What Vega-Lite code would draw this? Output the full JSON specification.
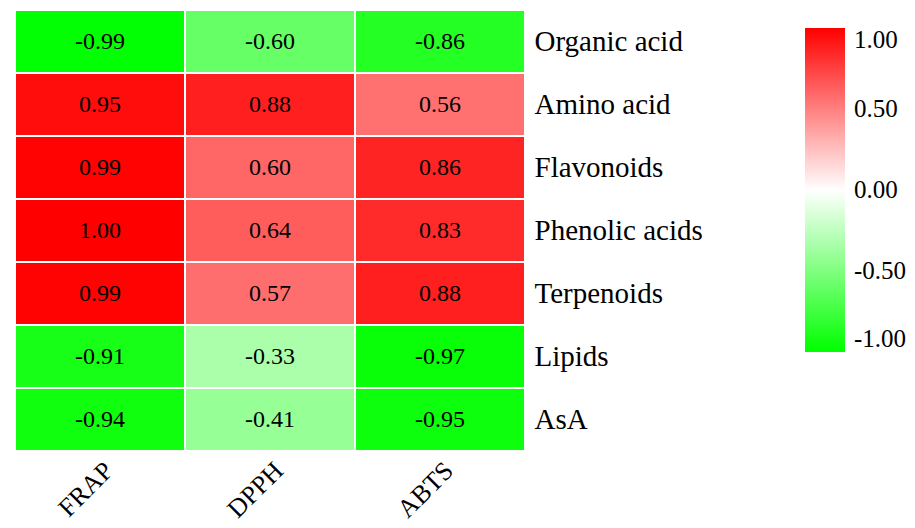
{
  "$schema": "https://vega.github.io/schema/vega-lite/v6.json",
  "autosize": "none",
  "padding": {"left": 15, "top": 10, "right": 390, "bottom": 77},
  "width": 510,
  "height": 441,
  "config": {
    "view": {"stroke": null},
    "font": "Liberation Serif",
    "axis": {"labelFont": "Liberation Serif", "labelColor": "black"},
    "legend": {"labelFont": "Liberation Serif", "labelColor": "black"}
  },
  "data": {
    "values": [
      {"compound": "Organic acid", "assay": "FRAP", "r": -0.99},
      {"compound": "Organic acid", "assay": "DPPH", "r": -0.60},
      {"compound": "Organic acid", "assay": "ABTS", "r": -0.86},
      {"compound": "Amino acid", "assay": "FRAP", "r": 0.95},
      {"compound": "Amino acid", "assay": "DPPH", "r": 0.88},
      {"compound": "Amino acid", "assay": "ABTS", "r": 0.56},
      {"compound": "Flavonoids", "assay": "FRAP", "r": 0.99},
      {"compound": "Flavonoids", "assay": "DPPH", "r": 0.60},
      {"compound": "Flavonoids", "assay": "ABTS", "r": 0.86},
      {"compound": "Phenolic acids", "assay": "FRAP", "r": 1.00},
      {"compound": "Phenolic acids", "assay": "DPPH", "r": 0.64},
      {"compound": "Phenolic acids", "assay": "ABTS", "r": 0.83},
      {"compound": "Terpenoids", "assay": "FRAP", "r": 0.99},
      {"compound": "Terpenoids", "assay": "DPPH", "r": 0.57},
      {"compound": "Terpenoids", "assay": "ABTS", "r": 0.88},
      {"compound": "Lipids", "assay": "FRAP", "r": -0.91},
      {"compound": "Lipids", "assay": "DPPH", "r": -0.33},
      {"compound": "Lipids", "assay": "ABTS", "r": -0.97},
      {"compound": "AsA", "assay": "FRAP", "r": -0.94},
      {"compound": "AsA", "assay": "DPPH", "r": -0.41},
      {"compound": "AsA", "assay": "ABTS", "r": -0.95}
    ]
  },
  "encoding": {
    "x": {
      "field": "assay", "type": "nominal",
      "sort": ["FRAP", "DPPH", "ABTS"],
      "scale": {"paddingInner": 0, "paddingOuter": 0},
      "axis": {
        "orient": "bottom", "title": null, "domain": false, "ticks": false,
        "labelAngle": -45, "labelFontSize": 26, "labelPadding": 6,
        "labelAlign": "right", "labelBaseline": "top"
      }
    },
    "y": {
      "field": "compound", "type": "nominal",
      "sort": ["Organic acid", "Amino acid", "Flavonoids", "Phenolic acids", "Terpenoids", "Lipids", "AsA"],
      "scale": {"paddingInner": 0, "paddingOuter": 0},
      "axis": {
        "orient": "right", "title": null, "domain": false, "ticks": false,
        "labelFontSize": 29, "labelPadding": 9, "labelAlign": "left"
      }
    }
  },
  "layer": [
    {
      "mark": {"type": "rect", "stroke": "white", "strokeWidth": 2},
      "encoding": {
        "color": {
          "field": "r", "type": "quantitative",
          "scale": {"domain": [-1, 0, 1], "range": ["#00ff00", "#ffffff", "#ff0000"], "interpolate": "rgb"},
          "legend": {
            "orient": "none", "legendX": 790, "legendY": 18,
            "title": null, "direction": "vertical",
            "gradientLength": 324, "gradientThickness": 40,
            "gradientStrokeWidth": 0,
            "values": [-1, -0.5, 0, 0.5, 1], "format": ".2f",
            "labelExpr": "replace(datum.label, '\u2212', '-')",
            "labelFontSize": 25, "labelOffset": 9, "padding": 0,
            "labelOverlap": false
          }
        }
      }
    },
    {
      "mark": {
        "type": "text", "fontSize": 24, "color": "black", "font": "Liberation Serif",
        "text": {"expr": "replace(format(datum.r, '.2f'), '\u2212', '-')"}
      },
      "encoding": {}
    }
  ]
}
